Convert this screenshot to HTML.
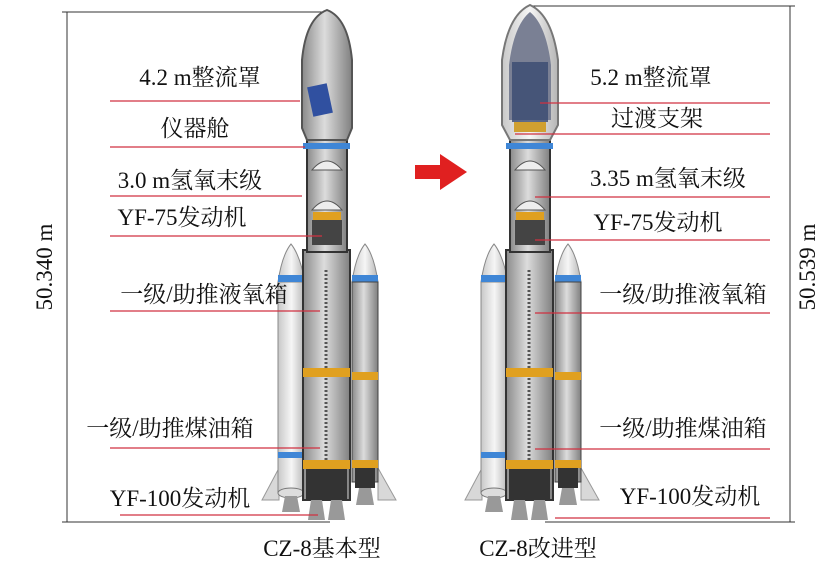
<!DOCTYPE html>
<html><head><meta charset="utf-8"><style>
html,body{margin:0;padding:0;background:#fff;}
svg{display:block;}
text{font-family:"Liberation Serif","Noto Serif CJK SC","Noto Sans CJK SC",serif;font-size:23px;fill:#111;}
</style></head><body>
<svg width="840" height="581" viewBox="0 0 840 581" xmlns="http://www.w3.org/2000/svg">
<defs>
<linearGradient id="g" x1="0" x2="1"><stop offset="0" stop-color="#8a8a8a"/><stop offset="0.45" stop-color="#dcdcdc"/><stop offset="1" stop-color="#808080"/></linearGradient>
<linearGradient id="w" x1="0" x2="1"><stop offset="0" stop-color="#c8c8c8"/><stop offset="0.5" stop-color="#f6f6f6"/><stop offset="1" stop-color="#b5b5b5"/></linearGradient>
<g id="base">
  <polygon points="262,500 279,468 279,500" fill="#d8d8d8" stroke="#999"/>
  <polygon points="378,468 396,500 378,500" fill="#d8d8d8" stroke="#999"/>
  <path d="M278,282 Q282,255 291,244 Q300,255 305,282 Z" fill="url(#w)" stroke="#888"/>
  <rect x="278" y="282" width="27" height="210" fill="url(#w)" stroke="#888"/>
  <rect x="278" y="275" width="27" height="7" fill="#3f86d6"/>
  <rect x="278" y="452" width="27" height="6" fill="#3f86d6"/>
  <ellipse cx="291" cy="493" rx="13" ry="5" fill="#ddd" stroke="#777"/>
  <polygon points="285,496 297,496 300,512 282,512" fill="#999"/>
  <path d="M352,282 Q356,255 365,244 Q374,255 378,282 Z" fill="url(#w)" stroke="#888"/>
  <rect x="352" y="275" width="26" height="7" fill="#3f86d6"/>
  <rect x="352" y="282" width="26" height="200" fill="url(#g)" stroke="#444"/>
  <rect x="352" y="372" width="26" height="8" fill="#e0a020"/>
  <rect x="352" y="460" width="26" height="8" fill="#e0a020"/>
  <rect x="355" y="468" width="20" height="20" fill="#333"/>
  <polygon points="359,488 371,488 374,505 356,505" fill="#999"/>
  <rect x="303" y="250" width="47" height="250" fill="url(#g)" stroke="#333" stroke-width="2"/>
  <line x1="326" y1="270" x2="326" y2="460" stroke="#555" stroke-width="3" stroke-dasharray="2 2"/>
  <rect x="303" y="368" width="47" height="9" fill="#e0a020"/>
  <rect x="303" y="460" width="47" height="9" fill="#e0a020"/>
  <rect x="306" y="469" width="41" height="30" fill="#333"/>
  <polygon points="311,500 322,500 325,520 308,520" fill="#999"/>
  <polygon points="331,500 342,500 345,520 328,520" fill="#999"/>
  <rect x="307" y="140" width="40" height="112" fill="url(#g)" stroke="#333" stroke-width="2"/>
  <rect x="303" y="143" width="47" height="6" fill="#3f86d6"/>
  <path d="M312,170 Q327,152 342,170 Z" fill="#eee" stroke="#555"/>
  <path d="M312,210 Q327,192 342,210 Z" fill="#eee" stroke="#555"/>
  <rect x="313" y="212" width="28" height="8" fill="#e0a020"/>
  <rect x="312" y="220" width="30" height="25" fill="#444"/>
</g>
</defs>

<line x1="67" y1="12" x2="67" y2="522" stroke="#333"/>
<line x1="62" y1="12" x2="322" y2="12" stroke="#333"/>
<line x1="62" y1="522" x2="330" y2="522" stroke="#333"/>
<line x1="790" y1="6" x2="790" y2="522" stroke="#333"/>
<line x1="530" y1="6" x2="795" y2="6" stroke="#333"/>
<line x1="545" y1="522" x2="795" y2="522" stroke="#333"/>
<text transform="translate(52,267) rotate(-90)" text-anchor="middle">50.340 m</text>
<text transform="translate(815,267) rotate(-90)" text-anchor="middle">50.539 m</text>

<use href="#base"/>
<path d="M302,128 L302,60 Q306,18 327,10 Q348,18 352,60 L352,128 L347,140 L307,140 Z" fill="url(#g)" stroke="#555" stroke-width="2"/>
<rect x="310" y="85" width="20" height="30" fill="#3050a0" transform="rotate(-12 320 100)"/>
<g transform="translate(203,0)"><use href="#base"/></g>
<path d="M502,125 L502,60 Q508,15 530,5 Q552,15 558,60 L558,125 L550,140 L510,140 Z" fill="url(#w)" stroke="#777" stroke-width="2"/>
<path d="M509,65 Q514,25 530,12 Q546,25 551,65 L551,120 L509,120 Z" fill="#7a8094"/>
<rect x="512" y="62" width="36" height="60" fill="#3a4a70" opacity="0.8"/>
<rect x="514" y="122" width="32" height="10" fill="#d0a030"/>

<polygon points="415,165 440,165 440,154 467,172 440,190 440,179 415,179" fill="#e02020"/>

<g stroke="#d03040" stroke-width="1.3">
<line x1="110" y1="101" x2="300" y2="101"/>
<line x1="110" y1="147" x2="305" y2="147"/>
<line x1="110" y1="196" x2="302" y2="196"/>
<line x1="110" y1="236" x2="322" y2="236"/>
<line x1="110" y1="311" x2="320" y2="311"/>
<line x1="110" y1="448" x2="320" y2="448"/>
<line x1="120" y1="515" x2="318" y2="515"/>
<line x1="540" y1="103" x2="770" y2="103"/>
<line x1="515" y1="134" x2="770" y2="134"/>
<line x1="535" y1="197" x2="770" y2="197"/>
<line x1="535" y1="240" x2="770" y2="240"/>
<line x1="535" y1="313" x2="770" y2="313"/>
<line x1="535" y1="449" x2="770" y2="449"/>
<line x1="555" y1="518" x2="770" y2="518"/>
</g>
<g text-anchor="middle">
<text x="200" y="85">4.2 m整流罩</text>
<text x="195" y="136">仪器舱</text>
<text x="190" y="188">3.0 m氢氧末级</text>
<text x="182" y="225">YF-75发动机</text>
<text x="204" y="302">一级/助推液氧箱</text>
<text x="170" y="436">一级/助推煤油箱</text>
<text x="180" y="506">YF-100发动机</text>
<text x="651" y="85">5.2 m整流罩</text>
<text x="657" y="126">过渡支架</text>
<text x="668" y="186">3.35 m氢氧末级</text>
<text x="658" y="230">YF-75发动机</text>
<text x="683" y="302">一级/助推液氧箱</text>
<text x="683" y="436">一级/助推煤油箱</text>
<text x="690" y="504">YF-100发动机</text>
<text x="322" y="556">CZ-8基本型</text>
<text x="538" y="556">CZ-8改进型</text>
</g>
</svg>
</body></html>
